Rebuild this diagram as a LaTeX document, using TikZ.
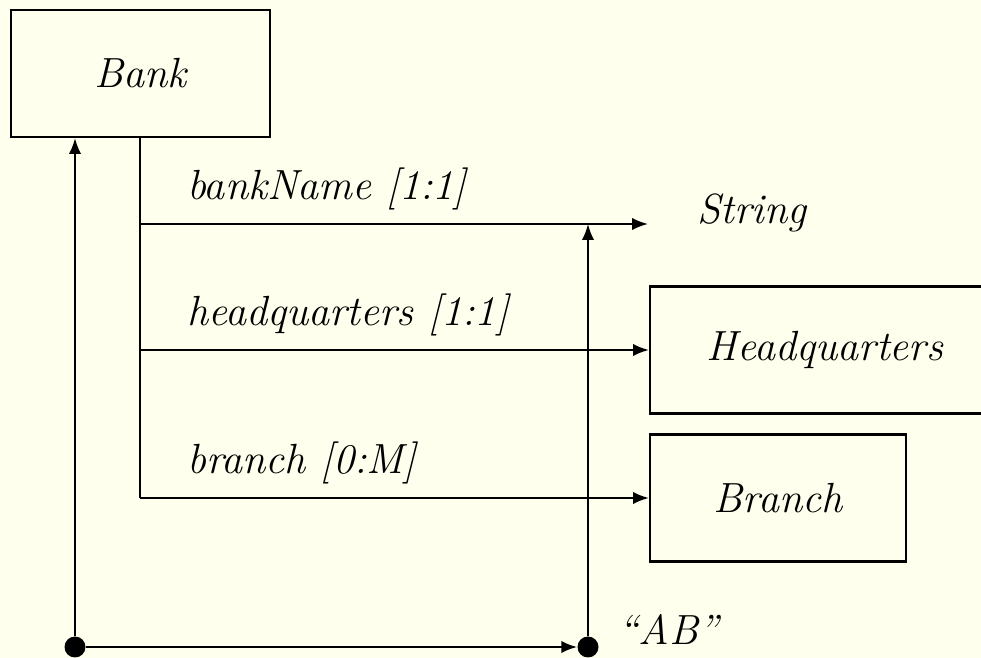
\documentclass[tikz,border=0pt]{standalone}
\usepackage{tikz}
\usetikzlibrary{arrows.meta, positioning, calc}
\definecolor{paperCream}{HTML}{FFFFEE}

\begin{document}
\begin{tikzpicture}[
    big/.style={font=\fontsize{24}{28}\selectfont\itshape},
    ent/.style={
      big,
      draw,
      line width=1.2pt,
      minimum height=2.54cm,
    },
    arr/.style={-{Latex[length=9pt, width=7pt]}, line width=1.2pt},
    ln/.style={line width=1.2pt},
    lbl/.style={big, anchor=base west, inner sep=0pt, xshift=0.92cm, yshift=0.48cm},
    txt/.style={big, anchor=base west, inner sep=0pt},
    dot/.style={circle, fill, inner sep=0pt, minimum size=0.42cm},
  ]
    % paper
    \fill[paperCream] (0,0) rectangle (19.62,13.16);
    \useasboundingbox (0,0) rectangle (19.62,13.16);

    % bank
    \node[ent, minimum width=5.18cm] (bank) at (2.81,11.69) {Bank};

    % targets
    \node[txt] (str) at (13.94,8.68) {String};
    \node[ent, minimum width=7cm] (hq) at (16.5,6.16) {Headquarters};
    \node[ent, minimum width=5.12cm] (branch) at (15.56,3.2) {Branch};

    % key
    \node[dot] (d1) at (1.5,0.22) {};
    \node[dot] (d2) at (11.76,0.22) {};
    \node[txt] (ab) at (12.36,0.26) {``AB''};

    % attribute taps
    \coordinate (b1) at (2.8,8.68);
    \coordinate (b2) at (2.8,6.16);
    \coordinate (b3) at (2.8,3.2);
    \draw[ln] (bank.south -| b1) -- (b3);

    % arrows
    \draw[arr, shorten >=0.98cm] (b1) node[lbl] {bankName [1:1]} -- (str.base west);
    \draw[arr] (b2) node[lbl] {headquarters [1:1]} -- (hq.west);
    \draw[arr] (b3) node[lbl] {branch [0:M]} -- (branch.west);
    \draw[arr] (d1) -- (d1 |- bank.south);
    \draw[arr] (d1) -- (d2);
    \draw[arr] (d2) -- (d2 |- b1);
  \end{tikzpicture}
\end{document}
